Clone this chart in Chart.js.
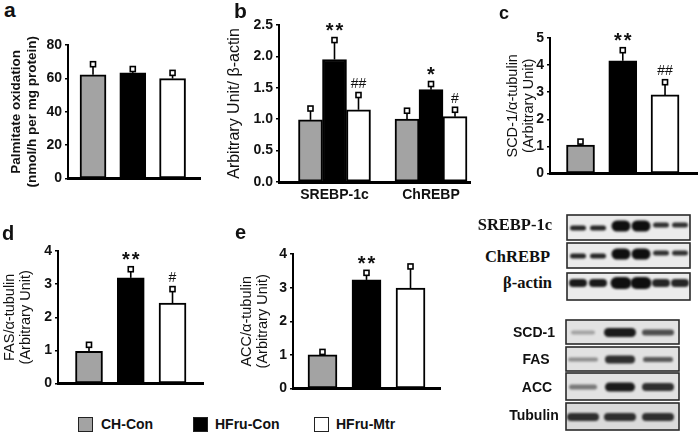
<!DOCTYPE html>
<html><head><meta charset="utf-8">
<script src="https://cdn.jsdelivr.net/npm/chart.js@4.4.1/dist/chart.umd.min.js"></script>
<style>
html,body{margin:0;padding:0;background:#fff}
#fig{position:relative;width:698px;height:432px;overflow:hidden;background:#fff}
canvas{position:absolute}
.t{position:absolute;white-space:nowrap;color:#111}
.lg{position:absolute;box-sizing:border-box;border:1.5px solid #222}
</style></head><body><div id="fig"></div>
<script>
// ---------------- data ----------------
const groups = ['CH-Con', 'HFru-Con', 'HFru-Mtr'];
const groupColors = ['#a3a3a3', '#000000', '#ffffff'];

const aValues = [62.2, 63.3, 59.9];
const aErrors = [6.3, 2.3, 3.4];

const bCategories = ['SREBP-1c', 'ChREBP'];
const bCHCon = [0.99, 1.00];
const bHFruCon = [1.95, 1.47];
const bHFruMtr = [1.15, 1.04];
const bCHConErr = [0.18, 0.135];
const bHFruConErr = [0.31, 0.09];
const bHFruMtrErr = [0.235, 0.11];
const bHFruConMarks = ['**', '*'];
const bHFruMtrMarks = ['##', '#'];

const cValues = [1.05, 4.16, 2.90];
const cErrors = [0.13, 0.39, 0.47];
const cMarks = ['', '**', '##'];

const dValues = [0.97, 3.19, 2.43];
const dErrors = [0.20, 0.26, 0.42];
const dMarks = ['', '**', '#'];

const eValues = [1.00, 3.23, 2.99];
const eErrors = [0.09, 0.21, 0.64];
const eMarks = ['', '**', ''];

const blotUpperLabels = ['SREBP-1c', 'ChREBP', 'β-actin'];
const blotLowerLabels = ['SCD-1', 'FAS', 'ACC', 'Tubulin'];
// relative band intensity per lane (visual only)
const blotUpperBands = [
  [0.9, 0.9, 1.0, 1.0, 0.85, 0.85],
  [0.9, 0.9, 1.0, 1.0, 0.85, 0.85],
  [0.95, 0.95, 1.0, 1.0, 0.9, 0.9]
];
const blotLowerBands = [
  [0.30, 0.95, 0.70],
  [0.40, 0.85, 0.65],
  [0.50, 0.95, 0.85],
  [0.85, 0.85, 0.85]
];

// ---------------- layout helpers ----------------
const FONT = 'Arial, "Liberation Sans", Helvetica, sans-serif';
const SERIF = '"Times New Roman", "Liberation Serif", serif';
const fig = document.getElementById('fig');

function txt(s, x, baseline, size, weight, family, align) {
  const d = document.createElement('div');
  d.className = 't';
  d.textContent = s;
  d.style.font = weight + ' ' + size + 'px ' + family;
  d.style.lineHeight = '0';
  d.style.top = (baseline - 0.3465 * size) + 'px';
  if (align === 'right') d.style.right = (698 - x) + 'px';
  else if (align === 'center') { d.style.left = x + 'px'; d.style.transform = 'translateX(-50%)'; }
  else d.style.left = x + 'px';
  fig.appendChild(d);
}

const errorPlugin = {
  id: 'errbars',
  afterDatasetsDraw(chart) {
    const ctx = chart.ctx, ys = chart.scales.y;
    chart.data.datasets.forEach((ds, di) => {
      const meta = chart.getDatasetMeta(di);
      meta.data.forEach((bar, i) => {
        const v = ds.data[i].y, e = ds.errors[i];
        const yt = ys.getPixelForValue(v + e);
        ctx.save();
        ctx.strokeStyle = '#000';
        ctx.lineWidth = 1.6;
        ctx.beginPath(); ctx.moveTo(bar.x, bar.y); ctx.lineTo(bar.x, yt + 2); ctx.stroke();
        ctx.fillStyle = '#fff'; ctx.lineWidth = 1.6;
        ctx.fillRect(bar.x - 2.5, yt - 2.5, 5, 5);
        ctx.strokeRect(bar.x - 2.5, yt - 2.5, 5, 5);
        const m = ds.marks && ds.marks[i];
        if (m) {
          ctx.fillStyle = '#111';
          ctx.textAlign = 'center';
          ctx.textBaseline = 'alphabetic';
          if (m.indexOf('*') >= 0) {
            ctx.font = 'bold 20px ' + FONT;
            ctx.letterSpacing = '2px';
            ctx.fillText(m, bar.x + 1, yt - 3);
          } else {
            ctx.font = '14px ' + FONT;
            ctx.letterSpacing = '0px';
            ctx.fillText(m, bar.x, yt - 7);
          }
        }
        ctx.restore();
      });
    });
  }
};

function barPanel(box, area, xr, yr, datasets, yTitle, titleFont, titlePad, xLabels) {
  const cv = document.createElement('canvas');
  cv.width = box.w; cv.height = box.h;
  Object.assign(cv.style, {left: box.l + 'px', top: box.t + 'px', width: box.w + 'px', height: box.h + 'px'});
  fig.appendChild(cv);
  return new Chart(cv, {
    type: 'bar',
    data: {datasets},
    options: {
      responsive: false, animation: false, devicePixelRatio: 1,
      layout: {padding: {left: 0, top: area.t - box.t, right: box.l + box.w - area.r, bottom: 0}},
      plugins: {legend: {display: false}, tooltip: {enabled: false}},
      scales: {
        x: {
          type: 'linear', min: xr[0], max: xr[1], offset: false,
          afterFit(s) { s.height = box.t + box.h - area.b; },
          afterBuildTicks(s) { if (xLabels) s.ticks = xLabels.map((l, i) => ({value: i + 1})); },
          ticks: {display: !!xLabels, autoSkip: false, maxRotation: 0, padding: 5, color: '#111',
                  font: {family: FONT, size: 14, weight: 'bold'},
                  callback: (v) => xLabels ? xLabels[v - 1] : ''},
          grid: {display: false, drawTicks: false, offset: false},
          border: {display: true, color: '#000', width: 3}
        },
        y: {
          min: yr[0], max: yr[1],
          afterFit(s) { s.width = area.l - box.l; },
          ticks: {stepSize: yr[2], color: '#111', padding: 3,
                  font: {family: FONT, size: 14, weight: 'bold'},
                  callback: (v) => yr[3] ? v.toFixed(yr[3]) : v},
          grid: {display: true, drawOnChartArea: false, drawTicks: true, tickLength: 3, color: '#000', lineWidth: 1.5},
          border: {display: true, color: '#000', width: 2},
          title: {display: true, text: yTitle, color: '#111', font: titleFont, padding: {top: titlePad, bottom: 0}}
        }
      }
    },
    plugins: [errorPlugin]
  });
}

function singleSet(values, errors, marks, thickness) {
  return [{
    label: groups.join(','),
    data: values.map((v, i) => ({x: i + 1, y: v})),
    backgroundColor: groupColors, borderColor: '#000', borderWidth: 2, borderSkipped: false,
    barThickness: thickness, errors, marks
  }];
}

// ---------------- panel a ----------------
barPanel({l: 0, t: 25, w: 205, h: 165}, {l: 68, t: 45, r: 200, b: 184},
  [0.371, 3.69], [0, 80, 20, 0], singleSet(aValues, aErrors, null, 26),
  ['Palmitate oxidation', '(nmol/h per mg protein)'],
  {family: FONT, size: 13.5, weight: 'bold', lineHeight: 1.2}, 8);

// ---------------- panel b ----------------
const bSets = [
  {label: groups[0], vals: bCHCon, err: bCHConErr, marks: null},
  {label: groups[1], vals: bHFruCon, err: bHFruConErr, marks: bHFruConMarks},
  {label: groups[2], vals: bHFruMtr, err: bHFruMtrErr, marks: bHFruMtrMarks}
].map((s, k) => ({
  label: s.label,
  data: s.vals.map((v, i) => ({x: i + 1, y: v})),
  backgroundColor: groupColors[k], borderColor: '#000', borderWidth: 2, borderSkipped: false,
  barThickness: 24, errors: s.err, marks: s.marks
}));
barPanel({l: 220, t: 10, w: 255, h: 195}, {l: 279, t: 25, r: 470, b: 182},
  [0.425, 2.404], [0, 2.5, 0.5, 1], bSets,
  'Arbitrary Unit/ β-actin', {family: FONT, size: 16, weight: 'normal', lineHeight: 1.2}, 5, bCategories);

// ---------------- panel c ----------------
barPanel({l: 495, t: 20, w: 203, h: 165}, {l: 550, t: 38, r: 698, b: 179},
  [0.278, 3.78], [0, 5, 1, 0], singleSet(cValues, cErrors, cMarks, 28),
  ['SCD-1/α-tubulin', '(Arbitrary Unit)'],
  {family: FONT, size: 14.5, weight: 'normal', lineHeight: 1.1}, 10);

// ---------------- panel d ----------------
barPanel({l: 0, t: 235, w: 208, h: 160}, {l: 58, t: 251, r: 203, b: 389},
  [0.2575, 3.73], [0, 4, 1, 0], singleSet(dValues, dErrors, dMarks, 27),
  ['FAS/α-tubulin', '(Arbitrary Unit)'],
  {family: FONT, size: 14.5, weight: 'normal', lineHeight: 1.1}, 2);

// ---------------- panel e ----------------
barPanel({l: 225, t: 240, w: 220, h: 160}, {l: 293, t: 254, r: 440, b: 393},
  [0.33, 3.67], [0, 4, 1, 0], singleSet(eValues, eErrors, eMarks, 29),
  ['ACC/α-tubulin', '(Arbitrary Unit)'],
  {family: FONT, size: 14.5, weight: 'normal', lineHeight: 1.1}, 14);

// ---------------- panel letters ----------------
txt('a', 4, 17, 21, 'bold', FONT);
txt('b', 234, 18, 21, 'bold', FONT);
txt('c', 499, 19, 18, 'bold', FONT);
txt('d', 2, 240, 20, 'bold', FONT);
txt('e', 235, 239, 20, 'bold', FONT);

// ---------------- legend ----------------
const legendBoxLeft = [78, 193, 314];
const legendTextLeft = [101, 215, 336];
groups.forEach((g, i) => {
  const b = document.createElement('div');
  b.className = 'lg';
  Object.assign(b.style, {left: legendBoxLeft[i] + 'px', top: '417px', width: '15px', height: '15px', background: groupColors[i]});
  fig.appendChild(b);
  txt(g, legendTextLeft[i], 429, 14, 'bold', FONT);
});

// ---------------- western blots ----------------
(function () {
  const ox = 555, oy = 205;
  const cv = document.createElement('canvas');
  cv.width = 143; cv.height = 227;
  Object.assign(cv.style, {left: ox + 'px', top: oy + 'px', width: '143px', height: '227px'});
  fig.appendChild(cv);
  const ctx = cv.getContext('2d');
  ctx.translate(-ox, -oy);
  function box(x1, y1, x2, y2, bg) {
    ctx.fillStyle = bg; ctx.fillRect(x1, y1, x2 - x1, y2 - y1);
  }
  function frame(x1, y1, x2, y2) {
    ctx.strokeStyle = '#2a2a2a'; ctx.lineWidth = 1.6; ctx.strokeRect(x1, y1, x2 - x1, y2 - y1);
  }
  function band(cx, cy, w, h, a) {
    ctx.save();
    ctx.filter = 'blur(1.3px)';
    ctx.strokeStyle = 'rgba(15,15,15,' + a + ')';
    ctx.lineCap = 'round'; ctx.lineWidth = h;
    ctx.beginPath(); ctx.moveTo(cx - w / 2 + h / 2, cy); ctx.lineTo(cx + w / 2 - h / 2, cy); ctx.stroke();
    ctx.restore();
  }
  // upper blots
  const upLanes = [578, 598, 621, 641, 661, 680];
  const upBoxes = [[215, 240], [243, 268], [273, 300]];
  upBoxes.forEach((yy, r) => {
    box(567, yy[0], 690, yy[1], '#ebebeb');
    const cyBase = r === 2 ? 283 : yy[0] + 13;
    upLanes.forEach((lx, k) => {
      const a = blotUpperBands[r][k];
      if (r < 2) {
        if (k === 2 || k === 3) { band(lx, cyBase - 2, 19, 11, a); }
        else if (k >= 4) { band(lx, cyBase - 3, 16, 5, a); }
        else band(lx, cyBase, 16, 5, a);
      } else {
        if (k === 2 || k === 3) band(lx, cyBase, 21, 12, a);
        else band(lx, cyBase, 18, 8, a);
      }
    });
    frame(567, yy[0], 690, yy[1]);
  });
  // lower blots
  const loLanes = [583, 620, 658];
  const loBoxes = [[320, 344], [347, 371], [373, 400], [403, 430]];
  const loH = [[4, 9, 6], [4, 8, 5], [5, 9, 8], [8, 8, 8]];
  const loW = [[24, 32, 32], [30, 30, 30], [28, 30, 32], [32, 32, 32]];
  loBoxes.forEach((yy, r) => {
    box(566, yy[0], 679, yy[1], r === 3 ? '#dadada' : '#e2e2e2');
    const cy = (yy[0] + yy[1]) / 2 + 0.5;
    loLanes.forEach((lx, k) => band(lx, cy, loW[r][k], loH[r][k], blotLowerBands[r][k]));
    frame(566, yy[0], 679, yy[1]);
  });
})();
txt(blotUpperLabels[0], 552, 231, 16.5, 'bold', SERIF, 'right');
txt(blotUpperLabels[1], 550, 263, 16.5, 'bold', SERIF, 'right');
txt(blotUpperLabels[2], 552, 289, 16.5, 'bold', SERIF, 'right');
txt(blotLowerLabels[0], 534, 337, 14, 'bold', FONT, 'center');
txt(blotLowerLabels[1], 536, 364, 14, 'bold', FONT, 'center');
txt(blotLowerLabels[2], 537, 392, 14, 'bold', FONT, 'center');
txt(blotLowerLabels[3], 534, 420, 14, 'bold', FONT, 'center');
</script></body></html>
